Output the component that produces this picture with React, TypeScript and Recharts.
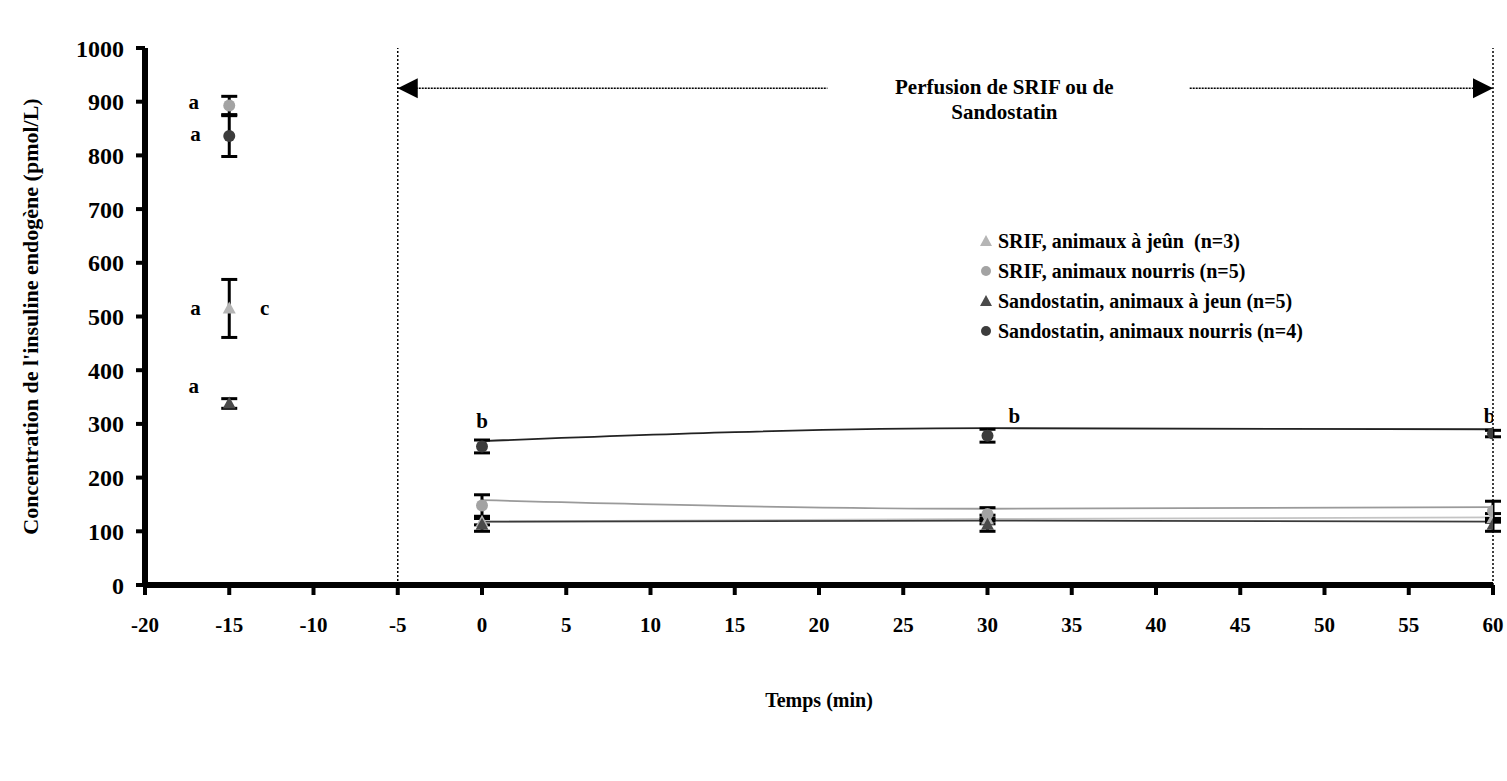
import { ComposedChart, Line, Scatter, XAxis, YAxis, ErrorBar, ReferenceLine, Label } from "recharts";

// sampling times (min)
const times = [-15, 0, 30, 60];
const lineTimes = [0, 30, 60];

// mean insulin (pmol/L) and SEM, per group
const srifJeun = [515, 118, 122, 125];
const srifJeunErr = [54, 6, 8, 8];
const srifNourris = [893, 148, 132, 138];
const srifNourrisErr = [17, 20, 12, 18];
const sandoJeun = [338, 112, 112, 112];
const sandoJeunErr = [9, 12, 12, 12];
const sandoNourris = [836, 258, 278, 282];
const sandoNourrisErr = [38, 12, 12, 6];

// smoothed trend drawn during the perfusion
const srifJeunLine = [118, 123, 126];
const srifNourrisLine = [158, 142, 145];
const sandoJeunLine = [118, 120, 118];
const sandoNourrisLine = [268, 292, 290];

const xTicks = [-20, -15, -10, -5, 0, 5, 10, 15, 20, 25, 30, 35, 40, 45, 50, 55, 60];
const yTicks = [0, 100, 200, 300, 400, 500, 600, 700, 800, 900, 1000];

// statistical letters (data coords)
const letterX = [-17.1, -17.0, -17.0, -12.9, -17.1, 0, 31.6, 59.8];
const letterY = [900, 840, 515, 515, 370, 305, 315, 315];
const letterText = ["a", "a", "a", "c", "a", "b", "b", "b"];

// perfusion window
const perfStart = -5;
const perfEnd = 60;
const perfLevel = 925;
const perfGapFrom = 20.5;
const perfGapTo = 42;
const perfTitle = ["Perfusion de SRIF ou de", "Sandostatin"];
const perfTitleX = 31;
const perfTitleY = [927, 880];

const legendNames = [
  "SRIF, animaux à jeûn  (n=3)",
  "SRIF, animaux nourris (n=5)",
  "Sandostatin, animaux à jeun (n=5)",
  "Sandostatin, animaux nourris (n=4)",
];

const FONT = "'Liberation Serif', 'Times New Roman', serif";

const toPoints = (vals: number[], errs: number[]) =>
  times.map((t, i) => ({ x: t, y: vals[i], err: errs[i] }));
const toTrend = (vals: number[]) => lineTimes.map((t, i) => ({ x: t, y: vals[i] }));

const series = [
  { name: legendNames[0], vals: srifJeun, errs: srifJeunErr, trend: srifJeunLine, fill: "#b5b5b5", line: "#c4c4c4", kind: "tri" },
  { name: legendNames[1], vals: srifNourris, errs: srifNourrisErr, trend: srifNourrisLine, fill: "#a3a3a3", line: "#9a9a9a", kind: "circ" },
  { name: legendNames[2], vals: sandoJeun, errs: sandoJeunErr, trend: sandoJeunLine, fill: "#4a4a4a", line: "#3a3a3a", kind: "tri" },
  { name: legendNames[3], vals: sandoNourris, errs: sandoNourrisErr, trend: sandoNourrisLine, fill: "#3c3c3c", line: "#222222", kind: "circ" },
];

const letters = letterX.map((x, i) => ({ x, y: letterY[i], t: letterText[i] }));
const titleRows = perfTitle.map((t, i) => ({ x: perfTitleX, y: perfTitleY[i], t }));
const arrowHeads = [
  { x: perfStart, y: perfLevel, dir: -1 },
  { x: perfEnd, y: perfLevel, dir: 1 },
];

const Marker = (kind: string, fill: string) => (props: any) => {
  const { cx, cy } = props;
  if (cx == null || cy == null) return null;
  if (kind === "tri") {
    return <polygon points={`${cx},${cy - 7} ${cx - 6.5},${cy + 5} ${cx + 6.5},${cy + 5}`} fill={fill} />;
  }
  return <circle cx={cx} cy={cy} r={6} fill={fill} />;
};

const LetterShape = (props: any) => {
  const { cx, cy, payload } = props;
  return (
    <text x={cx} y={cy} textAnchor="middle" dominantBaseline="central" fontFamily={FONT} fontWeight="bold" fontSize={21} fill="#000">
      {payload.t}
    </text>
  );
};

const TitleShape = (props: any) => {
  const { cx, cy, payload } = props;
  return (
    <text x={cx} y={cy} textAnchor="middle" dominantBaseline="central" fontFamily={FONT} fontWeight="bold" fontSize={21} fill="#000">
      {payload.t}
    </text>
  );
};

const ArrowShape = (props: any) => {
  const { cx, cy, payload } = props;
  const d = payload.dir;
  return <polygon points={`${cx},${cy} ${cx - d * 20},${cy - 10} ${cx - d * 20},${cy + 10}`} fill="#000" />;
};

const LegendBox = () => (
  <div style={{ position: "absolute", left: 978, top: 226, fontFamily: FONT, fontWeight: "bold", fontSize: 20, color: "#000" }}>
    {series.map((s) => (
      <div key={s.name} style={{ display: "flex", alignItems: "center", height: 30 }}>
        <svg width={16} height={16} style={{ marginRight: 4 }}>
          {s.kind === "tri" ? (
            <polygon points="8,2 2,13 14,13" fill={s.fill} />
          ) : (
            <circle cx={8} cy={8} r={5} fill={s.fill} />
          )}
        </svg>
        <span style={{ whiteSpace: "pre" }}>{s.name}</span>
      </div>
    ))}
  </div>
);

const YTitle = (props: any) => {
  const { viewBox } = props;
  const x = viewBox.x + 30;
  const y = viewBox.y + viewBox.height / 2;
  return (
    <text x={x} y={y} transform={`rotate(-90, ${x}, ${y})`} textAnchor="middle" dominantBaseline="central" fontFamily={FONT} fontWeight="bold" fontSize={22} fill="#000">
      Concentration de l'insuline endogène (pmol/L)
    </text>
  );
};

const yTickStyle = { fill: "#000", fontSize: 24, fontWeight: "bold", fontFamily: FONT };
const xTickStyle = { fill: "#000", fontSize: 21, fontWeight: "bold", fontFamily: FONT };

export default function App() {
  return (
    <div style={{ position: "absolute", left: 0, top: 0, width: 1507, height: 781, background: "#fff", fontFamily: FONT }}>
      <ComposedChart width={1507} height={781} margin={{ top: 48, right: 14, left: 0, bottom: 0 }}>
        <XAxis
          type="number"
          dataKey="x"
          domain={[-20, 60]}
          ticks={xTicks}
          allowDataOverflow
          height={196}
          tick={xTickStyle}
          tickSize={10}
          tickMargin={22}
          axisLine={{ stroke: "#000", strokeWidth: 6 }}
          tickLine={{ stroke: "#000", strokeWidth: 4 }}
        >
          <Label value="Temps (min)" position="insideTop" offset={108} style={{ fill: "#000", fontSize: 20, fontWeight: "bold", fontFamily: FONT }} />
        </XAxis>
        <YAxis
          type="number"
          dataKey="y"
          domain={[0, 1000]}
          ticks={yTicks}
          allowDataOverflow
          width={145}
          tick={yTickStyle}
          tickSize={9}
          tickMargin={12}
          axisLine={{ stroke: "#000", strokeWidth: 6 }}
          tickLine={{ stroke: "#000", strokeWidth: 4 }}
        >
          <Label content={<YTitle />} />
        </YAxis>

        <ReferenceLine x={perfStart} stroke="#000" strokeWidth={1.5} strokeDasharray="2 2" />
        <ReferenceLine x={perfEnd} stroke="#000" strokeWidth={1.5} strokeDasharray="2 2" />
        <ReferenceLine segment={[{ x: perfStart, y: perfLevel }, { x: perfGapFrom, y: perfLevel }]} stroke="#000" strokeWidth={1.5} strokeDasharray="2 1" />
        <ReferenceLine segment={[{ x: perfGapTo, y: perfLevel }, { x: perfEnd, y: perfLevel }]} stroke="#000" strokeWidth={1.5} strokeDasharray="2 1" />

        {series.map((s) => (
          <Line
            key={"l" + s.name}
            data={toTrend(s.trend)}
            dataKey="y"
            type="monotone"
            stroke={s.line}
            strokeWidth={1.8}
            dot={false}
            activeDot={false}
            legendType="none"
            isAnimationActive={false}
          />
        ))}

        {series.map((s) => (
          <Scatter
            key={"s" + s.name}
            name={s.name}
            data={toPoints(s.vals, s.errs)}
            shape={Marker(s.kind, s.fill)}
            isAnimationActive={false}
          >
            <ErrorBar dataKey="err" direction="y" width={8} stroke="#000" strokeWidth={3} isAnimationActive={false} />
          </Scatter>
        ))}

        <Scatter data={arrowHeads} shape={<ArrowShape />} legendType="none" isAnimationActive={false} />
        <Scatter data={letters} shape={<LetterShape />} legendType="none" isAnimationActive={false} />
        <Scatter data={titleRows} shape={<TitleShape />} legendType="none" isAnimationActive={false} />
      </ComposedChart>
      <LegendBox />
    </div>
  );
}
